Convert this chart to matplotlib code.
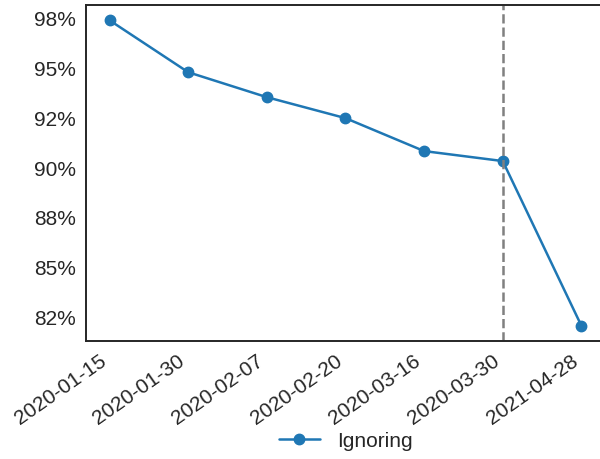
# Accuracy over time for the "Ignoring" strategy
import matplotlib
matplotlib.use("Agg")
import matplotlib.pyplot as plt
import seaborn as sns
from matplotlib.ticker import PercentFormatter, MultipleLocator

sns.set_style("white")
plt.rcParams['font.family'] = ['Liberation Sans', 'DejaVu Sans']

# Data
dates = ["2020-01-15", "2020-01-30", "2020-02-07", "2020-02-20",
         "2020-03-16", "2020-03-30", "2021-04-28"]
accuracy = [97.4, 94.8, 93.55, 92.5, 90.85, 90.35, 82.1]
cutoff_date = "2020-03-30"

fig = plt.figure(figsize=(6, 4.59), dpi=100)
ax = fig.add_axes([0.1433, 0.257, 0.865, 0.732])

x = list(range(len(dates)))
ax.plot(x, accuracy, marker='o', markersize=7.5, linewidth=1.8,
        color='#1f77b4', label='Ignoring')
ax.axvline(dates.index(cutoff_date), color='grey', linestyle='--', linewidth=1.8)

ax.set_xticks(x)
ax.set_xticklabels(dates, rotation=35, ha='right')
ax.yaxis.set_major_locator(MultipleLocator(2.5))
ax.yaxis.set_major_formatter(PercentFormatter(decimals=0))
ax.tick_params(labelsize=15, colors='#262626', pad=4)

for s in ax.spines.values():
    s.set_color('#262626')
    s.set_linewidth(1.4)

ax.legend(loc='center', bbox_to_anchor=(0.5, -0.298), frameon=False,
          fontsize=15, handlelength=2.0)

fig.savefig("out.png", dpi=100)
